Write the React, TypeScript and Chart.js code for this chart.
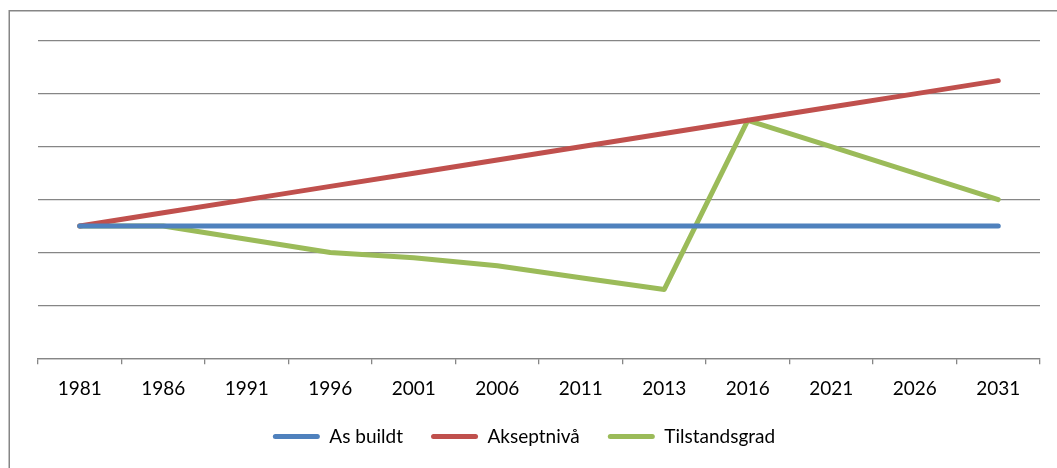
import React, { useEffect, useRef } from "react";
import { Chart, registerables } from "chart.js";

Chart.register(...registerables);

const categories = ["1981", "1986", "1991", "1996", "2001", "2006", "2011", "2013", "2016", "2021", "2026", "2031"];
const asBuildt = [2.5, 2.5, 2.5, 2.5, 2.5, 2.5, 2.5, 2.5, 2.5, 2.5, 2.5, 2.5];
const akseptniva = [2.5, 2.75, 3.0, 3.25, 3.5, 3.75, 4.0, 4.25, 4.5, 4.75, 5.0, 5.25];
const tilstandsgrad = [2.5, 2.5, 2.25, 2.0, 1.9, 1.75, 1.52, 1.3, 4.5, 4.0, 3.5, 3.0];
const seriesNames = ["As buildt", "Akseptnivå", "Tilstandsgrad"];
const seriesColors = ["#4F81BD", "#C0504D", "#9BBB59"];

const FONT = "Lato, 'Open Sans', sans-serif";

const framePlugin = {
  id: "frame",
  beforeDraw(chart: any) {
    const ctx = chart.ctx;
    ctx.save();
    ctx.fillStyle = "#ffffff";
    ctx.fillRect(0, 0, chart.width, chart.height);
    ctx.strokeStyle = "#868686";
    ctx.lineWidth = 1.5;
    ctx.strokeRect(9.25, 10.75, 1200, 600);
    ctx.restore();
  },
  afterLayout(chart: any) {
    const l = chart.legend;
    if (l) {
      l.left -= 15;
      l.right -= 15;
    }
  },
};

export default function App() {
  const ref = useRef<HTMLCanvasElement | null>(null);
  useEffect(() => {
    if (!ref.current) return;
    const data = [asBuildt, akseptniva, tilstandsgrad];
    const chart = new Chart(ref.current, {
      type: "line",
      data: {
        labels: categories,
        datasets: seriesNames.map((name, i) => ({
          label: name,
          data: data[i],
          borderColor: seriesColors[i],
          backgroundColor: seriesColors[i],
          borderWidth: 5,
          pointRadius: 0,
          pointHoverRadius: 0,
          tension: 0,
          borderCapStyle: "round" as const,
          borderJoinStyle: "round" as const,
        })),
      },
      options: {
        responsive: false,
        animation: false,
        layout: { padding: { left: 38, right: 17, top: 41, bottom: 12 } },
        scales: {
          x: {
            offset: true,
            afterFit: (scale: any) => {
              scale.height -= 14;
            },
            grid: {
              display: true,
              drawOnChartArea: false,
              drawTicks: true,
              tickLength: 6,
              color: "#868686",
              lineWidth: 1.3,
              offset: true,
            },
            border: { display: true, color: "#868686", width: 1.3 },
            ticks: {
              color: "#000000",
              font: { family: FONT, size: 19 },
              padding: 13,
              maxRotation: 0,
              autoSkip: false,
            },
          },
          y: {
            min: 0,
            max: 6,
            grid: { color: "#868686", lineWidth: 1.3, drawTicks: false },
            border: { display: false },
            ticks: { display: false, stepSize: 1 },
          },
        },
        plugins: {
          tooltip: { enabled: false },
          legend: {
            position: "bottom",
            labels: {
              color: "#000000",
              font: { family: FONT, size: 19 },
              boxWidth: 47,
              boxHeight: 5,
              padding: 28,
              useBorderRadius: true,
              borderRadius: 2.5,
              generateLabels: (c: any) =>
                c.data.datasets.map((ds: any, i: number) => ({
                  text: ds.label,
                  fillStyle: seriesColors[i],
                  strokeStyle: seriesColors[i],
                  lineWidth: 0,
                  fontColor: "#000000",
                  hidden: false,
                  datasetIndex: i,
                  borderRadius: 2.5,
                })),
            },
          },
        },
      },
      plugins: [framePlugin],
    });
    return () => chart.destroy();
  }, []);
  return (
    <div style={{ position: "absolute", left: 0, top: 0, width: 1057, height: 468 }}>
      <canvas ref={ref} width={1057} height={468} style={{ display: "block" }} />
    </div>
  );
}
